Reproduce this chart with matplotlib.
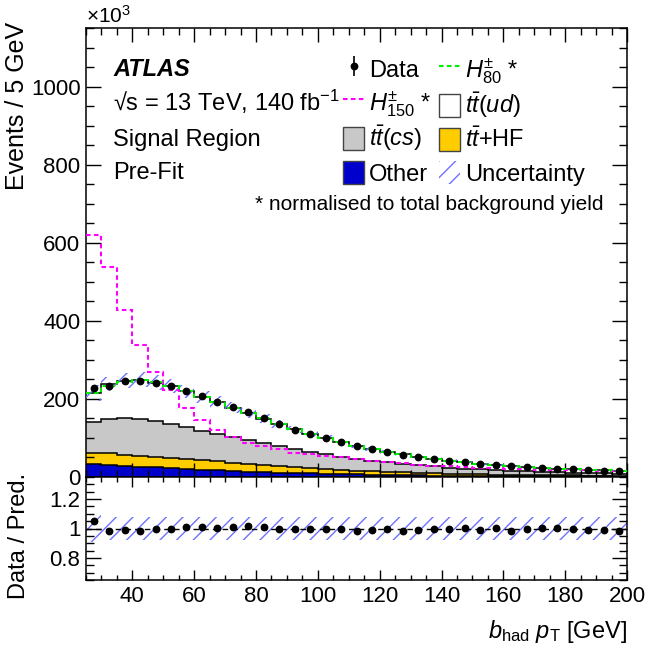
import numpy as np
import matplotlib
matplotlib.use("Agg")
import matplotlib.pyplot as plt
from matplotlib.lines import Line2D
from matplotlib.patches import Patch, Rectangle
from matplotlib.legend_handler import HandlerPatch
from matplotlib.ticker import MultipleLocator, FuncFormatter

plt.rcParams['font.family'] = ['Liberation Sans', 'DejaVu Sans']
plt.rcParams['mathtext.fontset'] = 'custom'
plt.rcParams['mathtext.rm'] = 'Liberation Sans'
plt.rcParams['mathtext.it'] = 'Liberation Sans:italic'
plt.rcParams['mathtext.bf'] = 'Liberation Sans:bold'
plt.rcParams['hatch.linewidth'] = 1.0

# ── binning: b_had pT, 5 GeV bins ─────────────
bin_edges = np.arange(25, 201, 5)

# ── yields per bin, in units of 10^3 events ──
other = [33, 30, 28, 26, 25, 22, 20, 19, 17, 15, 14, 13, 11, 10, 9, 8,
         7.2, 6.5, 5.8, 5.2, 4.7, 4.2, 3.8, 3.4, 3.1, 2.8, 2.5, 2.3, 2.1,
         1.9, 1.7, 1.6, 1.4, 1.3, 1.2]
tt_hf = [29, 31, 29, 29, 27, 27, 26, 25, 23, 22, 20, 18, 17, 15, 13, 12,
         10.8, 9.5, 8.7, 7.8, 7.1, 6.4, 5.7, 5.2, 4.7, 4.2, 3.8, 3.4, 3.1,
         2.8, 2.6, 2.3, 2.2, 2.0, 1.8]
tt_cs = [78, 87, 93, 93, 91, 88, 83, 75, 71, 66, 60, 55, 51, 46, 43, 39,
         34, 30, 27.5, 25, 22.2, 19.4, 17.5, 15.4, 13.7, 12.5, 11.5, 10.5,
         9.6, 8.8, 8.0, 7.4, 6.8, 6.3, 5.9]
tt_ud = [76, 90, 97, 101, 99, 96, 90, 87, 81, 75, 70, 63, 56, 51, 45, 40,
         37, 34, 30, 27, 24, 22, 20, 18, 16.5, 14.5, 13.2, 11.8, 11.2, 10,
         9.2, 8.2, 7.6, 7.2, 6.7]
data = [226.8, 233.7, 244.8, 245.5, 240.8, 233.0, 221.0, 207.9, 193.0,
        179.6, 166.3, 150.3, 135.0, 121.4, 109.5, 99.0, 88.6, 78.9, 71.4,
        64.7, 57.2, 51.5, 47.0, 41.8, 38.2, 33.7, 31.2, 27.5, 26.0, 23.6,
        21.6, 19.4, 17.8, 16.6, 15.3]
h80 = [214, 232, 243, 248, 244, 232, 219, 205, 191, 178, 163, 150, 135,
       122, 110, 99, 89, 80, 72, 65, 58, 52, 47, 42, 38, 34, 31, 28, 26,
       23.5, 21.5, 19.5, 18, 16.8, 15.6]
h150 = [620, 537, 428, 338, 270, 223, 176, 145, 120, 102, 86, 79, 71, 62,
        58, 54, 50, 46, 42, 38, 35, 32, 29, 27, 25, 23, 22, 21, 20, 19,
        18, 17.5, 17, 16.5, 16]
unc_rel = [0.095, 0.078, 0.076, 0.075, 0.075, 0.075, 0.075, 0.075, 0.075,
           0.075, 0.075, 0.075, 0.075, 0.075, 0.075, 0.075, 0.075, 0.075,
           0.075, 0.075, 0.075, 0.075, 0.075, 0.075, 0.075, 0.075, 0.075,
           0.075, 0.075, 0.075, 0.075, 0.075, 0.075, 0.075, 0.075]

# ── colours ───────────────────────────────────
C_OTHER = "#0000cc"
C_HF = "#ffcc00"
C_CS = "#c8c8c8"
C_UD = "#ffffff"
C_H80 = "#00ee00"
C_H150 = "#ff00ff"
C_UNC = "#7070ff"

centers = 0.5 * (bin_edges[1:] + bin_edges[:-1])
stack = [np.array(other), np.array(tt_hf), np.array(tt_cs), np.array(tt_ud)]
colors = [C_OTHER, C_HF, C_CS, C_UD]
total = np.sum(stack, axis=0)
data = np.array(data)
unc = np.array(unc_rel)

W, H = 648, 651
fig = plt.figure(figsize=(W / 100, H / 100), dpi=100)
ax = fig.add_axes([86 / W, 1 - 477 / H, 541 / W, 449 / H])
axr = fig.add_axes([86 / W, 1 - 580 / H, 541 / W, 103 / H], sharex=ax)

# stacked backgrounds
base = np.zeros(len(centers))
for vals, col in zip(stack, colors):
    top = base + vals
    ax.stairs(top, bin_edges, baseline=base, fill=True, color=col, lw=0, zorder=1)
    ax.stairs(top, bin_edges, baseline=None, color="black", lw=1.1, zorder=2)
    base = top

# uncertainty band
ax.stairs(total * (1 + unc), bin_edges, baseline=total * (1 - unc), fill=True,
          facecolor="none", edgecolor=C_UNC, hatch="//", lw=0, zorder=3)

dash = (0, (2.2, 1.6))
ax.stairs(h150, bin_edges, baseline=None, color=C_H150, lw=1.5, ls=dash, zorder=4)
ax.stairs(h80, bin_edges, baseline=None, color=C_H80, lw=1.5, ls=dash, zorder=4)
ax.plot(centers, data, "o", color="black", ms=4.6, zorder=5)

ax.set_xlim(25, 200)
ax.set_ylim(0, 1150)

# ratio panel
ratio = data / total
axr.stairs(1 + unc, bin_edges, baseline=1 - unc, fill=True, facecolor="none",
           edgecolor=C_UNC, hatch="//", lw=0, zorder=1)
axr.axhline(1, color="black", lw=1.0, ls=(0, (4, 3)), zorder=2)
axr.plot(centers, ratio, "o", color="black", ms=4.6, zorder=3)
axr.set_ylim(0.65, 1.35)

# ticks, ROOT style
for a in (ax, axr):
    a.xaxis.set_major_locator(MultipleLocator(20))
    a.xaxis.set_minor_locator(MultipleLocator(5))
    a.tick_params(which="both", direction="in", top=True, right=True,
                  labelsize=16, width=1.0, pad=4)
    for s in a.spines.values():
        s.set_linewidth(1.1)
ax.yaxis.set_major_locator(MultipleLocator(200))
ax.yaxis.set_minor_locator(MultipleLocator(50))
ax.tick_params(axis="y", which="major", length=11)
ax.tick_params(axis="y", which="minor", length=5.5)
ax.tick_params(axis="x", which="major", length=10)
ax.tick_params(axis="x", which="minor", length=5)
ax.tick_params(axis="x", labelbottom=False)
axr.yaxis.set_major_locator(MultipleLocator(0.2))
axr.yaxis.set_minor_locator(MultipleLocator(0.05))
axr.yaxis.set_major_formatter(FuncFormatter(lambda v, p: f"{v:g}"))
axr.tick_params(axis="y", which="major", length=11)
axr.tick_params(axis="y", which="minor", length=5.5)
axr.tick_params(axis="x", which="major", length=7)
axr.tick_params(axis="x", which="minor", length=3.5)

# axis titles
fig.text(17 / W, 1 - 22 / H, "Events / 5 GeV", rotation=90, ha="center",
         va="top", fontsize=18)
fig.text(19 / W, 1 - 536 / H, "Data / Pred.", rotation=90, ha="center",
         va="center", fontsize=17)
fig.text(627 / W, 1 - 638 / H, r"$b_{\mathrm{had}}\ p_{\mathrm{T}}$ [GeV]",
         ha="right", va="baseline", fontsize=17)
fig.text(86 / W, 1 - 27 / H, r"$\times$10$^{3}$", ha="left", va="bottom",
         fontsize=15)

# labels
fig.text(113 / W, 1 - 76 / H, "ATLAS", fontsize=17, weight="bold",
         style="italic", va="baseline")
fig.text(113 / W, 1 - 111 / H, "√s = 13 TeV, 140 fb$^{-1}$", fontsize=17,
         va="baseline")
fig.text(113 / W, 1 - 146 / H, "Signal Region", fontsize=17, va="baseline")
fig.text(113 / W, 1 - 179 / H, "Pre-Fit", fontsize=17, va="baseline")
fig.text(255 / W, 1 - 210 / H, "* normalised to total background yield",
         fontsize=15, va="baseline")

# legend
def small_box(legend, orig_handle, xdescent, ydescent, width, height, fontsize):
    h = 0.95 * fontsize
    return Rectangle((-xdescent, -ydescent + (height - h) / 2), width, h)

data_h = (Line2D([], [], color="black", marker="|", ms=14, mew=1.2, ls="none"),
          Line2D([], [], color="black", marker="o", ms=4.6, ls="none"))
h150_h = Line2D([], [], color=C_H150, lw=1.5, ls=dash)
h80_h = Line2D([], [], color=C_H80, lw=1.5, ls=dash)
cs_h = Patch(facecolor=C_CS, edgecolor="#444444", lw=1.0)
other_h = Patch(facecolor=C_OTHER, edgecolor="#444444", lw=1.0)
ud_h = Patch(facecolor=C_UD, edgecolor="#444444", lw=1.0)
hf_h = Patch(facecolor=C_HF, edgecolor="#444444", lw=1.0)
unc_h = Patch(facecolor="none", edgecolor=C_UNC, hatch="//", lw=0)

handles = [data_h, h150_h, cs_h, other_h, h80_h, ud_h, hf_h, unc_h]
labels = ["Data", r"$H^{\pm}_{150}$ *", r"$t\bar{t}(cs)$", "Other",
          r"$H^{\pm}_{80}$ *", r"$t\bar{t}(ud)$", r"$t\bar{t}$+HF", "Uncertainty"]
fig.legend(handles, labels, loc="upper left",
           bbox_to_anchor=(343 / W, 1 - 55 / H), ncol=2, frameon=False,
           fontsize=17, handlelength=0.9, handleheight=1.45,
           handletextpad=0.2, columnspacing=0.3, labelspacing=0.22,
           borderpad=0, borderaxespad=0,
           handler_map={Patch: HandlerPatch(patch_func=small_box)})

fig.savefig("out.png", dpi=100)
